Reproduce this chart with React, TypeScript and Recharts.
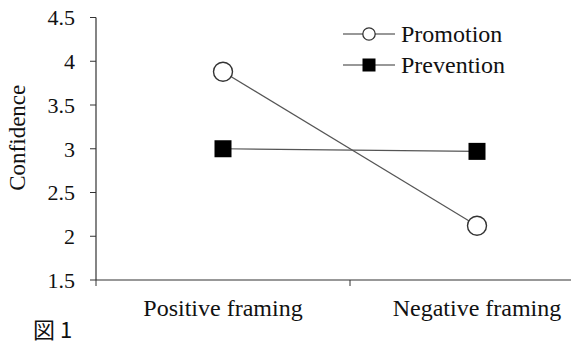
import React from "react";
import { LineChart, Line, XAxis, YAxis, Legend } from "recharts";

const categories = ["Positive framing", "Negative framing"];
const promotion = [3.88, 2.12];
const prevention = [3.0, 2.97];
const yTicks = [1.5, 2, 2.5, 3, 3.5, 4, 4.5];
const seriesNames = ["Promotion", "Prevention"];

const FONT = "'Times New Roman', 'Liberation Serif', Times, serif";
const AXIS = "#333";

const data = categories.map((c, i) => ({
  pos: i + 0.5,
  name: c,
  promotion: promotion[i],
  prevention: prevention[i],
}));

// boundary ticks (lines only) and centre ticks (labels only)
const xTicks: number[] = [];
for (let i = 0; i <= categories.length; i++) {
  xTicks.push(i);
  if (i < categories.length) xTicks.push(i + 0.5);
}

function XTick(props: any) {
  const { x, y, payload } = props;
  const v = payload.value;
  if (Number.isInteger(v)) {
    return <line x1={x} x2={x} y1={y - 6} y2={y} stroke={AXIS} strokeWidth={1} />;
  }
  return (
    <text x={x} y={y} dy={30} textAnchor="middle" fontFamily={FONT} fontSize={24} fill="#111">
      {categories[Math.floor(v)]}
    </text>
  );
}

function CircleDot(props: any) {
  const { cx, cy, index } = props;
  return <circle key={index} cx={cx} cy={cy} r={9.5} fill="#fff" stroke="#333" strokeWidth={1.4} />;
}

function SquareDot(props: any) {
  const { cx, cy, index } = props;
  return <rect key={index} x={cx - 8.5} y={cy - 8.5} width={17} height={17} fill="#000" />;
}

function YLabel(props: any) {
  const { viewBox } = props;
  const cx = 25;
  const cy = viewBox.y + viewBox.height / 2 - 11;
  return (
    <text
      x={cx}
      y={cy}
      transform={`rotate(-90 ${cx} ${cy})`}
      textAnchor="middle"
      fontFamily={FONT}
      fontSize={23}
      fill="#111"
    >
      Confidence
    </text>
  );
}

function LegendBox(props: any) {
  const payload = [...(props.payload || [])].sort(
    (a: any, b: any) => seriesNames.indexOf(a.value) - seriesNames.indexOf(b.value)
  );
  return (
    <svg width={200} height={70}>
      {payload.map((p: any, i: number) => {
        const cy = 19 + i * 31;
        return (
          <g key={p.value}>
            <line x1={3} x2={55} y1={cy} y2={cy} stroke="#333" strokeWidth={1.2} />
            {p.value === seriesNames[0] ? (
              <circle cx={29} cy={cy} r={6.2} fill="#fff" stroke="#333" strokeWidth={1.3} />
            ) : (
              <rect x={22.5} y={cy - 6.5} width={13} height={13} fill="#000" />
            )}
            <text x={61} y={cy + 8} fontFamily={FONT} fontSize={24} fill="#111">
              {p.value}
            </text>
          </g>
        );
      })}
    </svg>
  );
}

export default function App() {
  return (
    <div
      style={{
        position: "absolute",
        left: 0,
        top: 0,
        width: 571,
        height: 343,
        overflow: "hidden",
        background: "#fff",
      }}
    >
      <LineChart
        width={610}
        height={343}
        data={data}
        margin={{ top: 17.5, right: 6, left: 0, bottom: 0 }}
      >
        <XAxis
          dataKey="pos"
          type="number"
          domain={[0, categories.length]}
          ticks={xTicks}
          interval={0}
          tick={XTick}
          tickLine={false}
          tickSize={6}
          tickMargin={0}
          axisLine={{ stroke: AXIS, strokeWidth: 1.2 }}
          height={63}
        />
        <YAxis
          type="number"
          domain={[1.5, 4.5]}
          ticks={yTicks}
          interval={0}
          width={96}
          tickSize={6}
          tickMargin={15}
          tick={{ fill: "#111", fontSize: 22, fontFamily: FONT }}
          tickLine={{ stroke: AXIS }}
          axisLine={{ stroke: AXIS, strokeWidth: 1.2 }}
          label={<YLabel />}
        />
        <Legend
          layout="vertical"
          align="center"
          verticalAlign="middle"
          wrapperStyle={{ left: 340, top: 15, width: 200, height: 70 }}
          content={<LegendBox />}
        />
        <Line
          dataKey="promotion"
          name={seriesNames[0]}
          stroke="#555"
          strokeWidth={1.2}
          dot={<CircleDot />}
          activeDot={false}
          isAnimationActive={false}
        />
        <Line
          dataKey="prevention"
          name={seriesNames[1]}
          stroke="#555"
          strokeWidth={1.2}
          dot={<SquareDot />}
          activeDot={false}
          isAnimationActive={false}
        />
      </LineChart>
      <div
        style={{
          position: "absolute",
          left: 33,
          top: 316,
          fontFamily: "'Noto Sans CJK JP', 'Noto Sans', sans-serif",
          fontSize: 22,
          lineHeight: "24px",
          color: "#111",
        }}
      >
        図 1
      </div>
    </div>
  );
}
